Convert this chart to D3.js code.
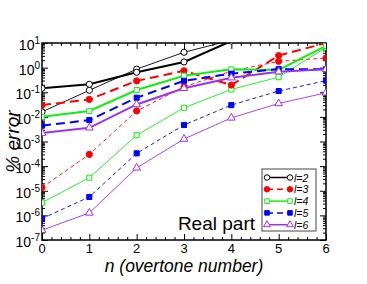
<!DOCTYPE html>
<html>
<head>
<meta charset="utf-8">
<script src="https://cdn.jsdelivr.net/npm/d3@7"></script>
<style>
  body { margin: 0; background: #fff; }
  text { font-family: "Liberation Sans", Arial, sans-serif; }
</style>
</head>
<body>
<div id="chart"></div>
<script>
// overtone number
const overtones = [0, 1, 2, 3, 4, 5, 6]
const legendLabels = ['l=2', 'l=3', 'l=4', 'l=5', 'l=6']

// % error, thick lines (first set)
const l2Thick = [0.145, 0.21, 0.65, 1.7, 12]
const l3Thick = [0.030, 0.051, 0.29, 0.74, 0.195, 3.1, 10]
const l4Thick = [0.010, 0.0174, 0.123, 0.47, 0.85, 0.80, 7.6]
const l5Thick = [0.0044, 0.0074, 0.060, 0.29, 0.57, 0.87, 0.85]
const l6Thick = [0.0022, 0.0036, 0.032, 0.145, 0.39, 0.68, 0.85]

// % error, thin lines (second set)
const l2Thin = [0.016, 0.12, 0.87, 4.2, 13]
const l3Thin = [1.35e-5, 3.0e-4, 0.0174, 0.166, 0.72, 1.8, 2.45]
const l4Thin = [3.3e-6, 3.4e-5, 1.8e-3, 0.0234, 0.13, 0.41, 6.6]
const l5Thin = [7.4e-7, 5.6e-6, 3.3e-4, 4.7e-3, 0.030, 0.112, 0.295]
const l6Thin = [2.5e-7, 1.26e-6, 8.5e-5, 1.26e-3, 9.1e-3, 0.035, 0.095]

const yExponents = [-7, -6, -5, -4, -3, -2, -1, 0, 1]
const xTickLabels = ['0', '1', '2', '3', '4', '5', '6']

const width = 367
const height = 284
const margin = {top: 43, right: 41, bottom: 44, left: 42}

// one style per l
const styles = [
    {color: '#000000', dash: null, thinDash: null, symbol: d3.symbolCircle, fill: false, size: 30},
    {color: '#ff0000', dash: '9,5', thinDash: '4,3', symbol: d3.symbolCircle, fill: true, size: 30},
    {color: '#11ee11', dash: null, thinDash: null, symbol: d3.symbolSquare, fill: false, size: 26},
    {color: '#0000ff', dash: '9,5', thinDash: '4,3', symbol: d3.symbolSquare, fill: true, size: 26},
    {color: '#9933ee', dash: null, thinDash: null, symbol: d3.symbolTriangle, fill: false, size: 26}
]
const thickSets = [l2Thick, l3Thick, l4Thick, l5Thick, l6Thick]
const thinSets = [l2Thin, l3Thin, l4Thin, l5Thin, l6Thin]

const svg = d3.select('#chart')
    .append('svg')
    .attr('width', width)
    .attr('height', height)

const x = d3.scaleLinear()
    .domain([0, 6])
    .range([margin.left, width - margin.right])
const y = d3.scaleLog()
    .domain([1e-7, 1e1])
    .range([height - margin.bottom, margin.top])

const x0 = x.range()[0], x1 = x.range()[1]
const y0 = y.range()[0], y1 = y.range()[1]

svg.append('clipPath')
    .attr('id', 'plot-clip')
    .append('rect')
    .attr('x', x0).attr('y', y1)
    .attr('width', x1 - x0).attr('height', y0 - y1)

// ticks: majors every decade / integer, minors in between
const yMajor = yExponents.map(e => Math.pow(10, e))
const yMinor = []
yExponents.slice(0, -1).forEach(e => {
    for (let k = 2; k < 10; k++) yMinor.push(k * Math.pow(10, e))
})
const xMajor = overtones
const xMinor = d3.range(0, 6.001, 0.2).filter(v => Math.abs(v - Math.round(v)) > 0.01)

function tickAxis(axisFn, scale, values, size, pos) {
    const g = svg.append('g')
        .attr('transform', pos)
        .call(axisFn(scale).tickValues(values).tickSize(size).tickFormat(''))
    g.select('.domain').remove()
    g.selectAll('line').attr('stroke', '#000').attr('stroke-width', 1)
    return g
}
tickAxis(d3.axisLeft, y, yMajor, -6, `translate(${x0},0)`)
tickAxis(d3.axisLeft, y, yMinor, -3, `translate(${x0},0)`)
tickAxis(d3.axisRight, y, yMajor, -6, `translate(${x1},0)`)
tickAxis(d3.axisRight, y, yMinor, -3, `translate(${x1},0)`)
tickAxis(d3.axisBottom, x, xMajor, -6, `translate(0,${y0})`)
tickAxis(d3.axisBottom, x, xMinor, -3, `translate(0,${y0})`)
tickAxis(d3.axisTop, x, xMajor, -6, `translate(0,${y1})`)
tickAxis(d3.axisTop, x, xMinor, -3, `translate(0,${y1})`)

// frame
svg.append('rect')
    .attr('x', x0).attr('y', y1)
    .attr('width', x1 - x0).attr('height', y0 - y1)
    .attr('fill', 'none')
    .attr('stroke', '#000')
    .attr('stroke-width', 1.5)

// y tick labels 10^e
yExponents.forEach(e => {
    const t = svg.append('text')
        .attr('x', x0 - 2)
        .attr('y', y(Math.pow(10, e)) + 7)
        .attr('text-anchor', 'end')
        .attr('font-size', 14)
        .attr('fill', '#000')
    t.append('tspan').text('10')
    t.append('tspan')
        .attr('dy', -6)
        .attr('font-size', 10)
        .text(e)
})

// x tick labels
svg.append('g')
    .selectAll('text')
    .data(xTickLabels)
    .enter()
    .append('text')
    .attr('x', (d, i) => x(overtones[i]))
    .attr('y', y0 + 13)
    .attr('text-anchor', 'middle')
    .attr('font-size', 13)
    .text(d => d)

// axis titles
svg.append('text')
    .attr('x', (x0 + x1) / 2)
    .attr('y', 272)
    .attr('text-anchor', 'middle')
    .attr('font-size', 17.5)
    .attr('font-style', 'italic')
    .text('n (overtone number)')

svg.append('text')
    .attr('transform', `translate(19,${(y0 + y1) / 2}) rotate(-90)`)
    .attr('text-anchor', 'middle')
    .attr('font-size', 19)
    .attr('font-style', 'italic')
    .text('% error')

svg.append('text')
    .attr('x', 255)
    .attr('y', 230)
    .attr('text-anchor', 'end')
    .attr('font-size', 19)
    .text('Real part')

// series
const plot = svg.append('g').attr('clip-path', 'url(#plot-clip)')
const line = d3.line()
    .x((d, i) => x(overtones[i]))
    .y(d => y(d))

function drawSeries(values, st, thick) {
    plot.append('path')
        .datum(values)
        .attr('d', line)
        .attr('fill', 'none')
        .attr('stroke', st.color)
        .attr('stroke-width', thick ? 2 : 1)
        .attr('stroke-dasharray', thick ? st.dash : st.thinDash)
        .attr('opacity', thick ? 1 : 0.9)
    plot.selectAll(null)
        .data(values)
        .enter()
        .append('path')
        .attr('transform', (d, i) => `translate(${x(overtones[i])},${y(d)})`)
        .attr('d', d3.symbol().type(st.symbol).size(st.size))
        .attr('fill', st.fill ? st.color : '#fff')
        .attr('stroke', st.color)
        .attr('stroke-width', 1)
}
thinSets.forEach((vals, i) => drawSeries(vals, styles[i], false))
thickSets.forEach((vals, i) => drawSeries(vals, styles[i], true))

// legend
const legend = svg.append('g')
legend.append('rect')
    .attr('x', 262).attr('y', 169)
    .attr('width', 54).attr('height', 62)
    .attr('fill', '#fff')
    .attr('stroke', '#444')
    .attr('stroke-width', 1)

legendLabels.forEach((label, i) => {
    const st = styles[i]
    const ly = 177.5 + i * 11.8
    legend.append('line')
        .attr('x1', 267).attr('x2', 290)
        .attr('y1', ly).attr('y2', ly)
        .attr('stroke', st.color)
        .attr('stroke-width', 1.5)
        .attr('stroke-dasharray', st.dash ? '6,4' : null)
    ;[267, 290].forEach(px => {
        legend.append('path')
            .attr('transform', `translate(${px},${ly})`)
            .attr('d', d3.symbol().type(st.symbol).size(st.size * 0.8))
            .attr('fill', st.fill ? st.color : '#fff')
            .attr('stroke', st.color)
    })
    legend.append('text')
        .attr('x', 294)
        .attr('y', ly + 4)
        .attr('font-size', 10.5)
        .attr('font-style', 'italic')
        .text(label)
})
</script>
</body>
</html>
